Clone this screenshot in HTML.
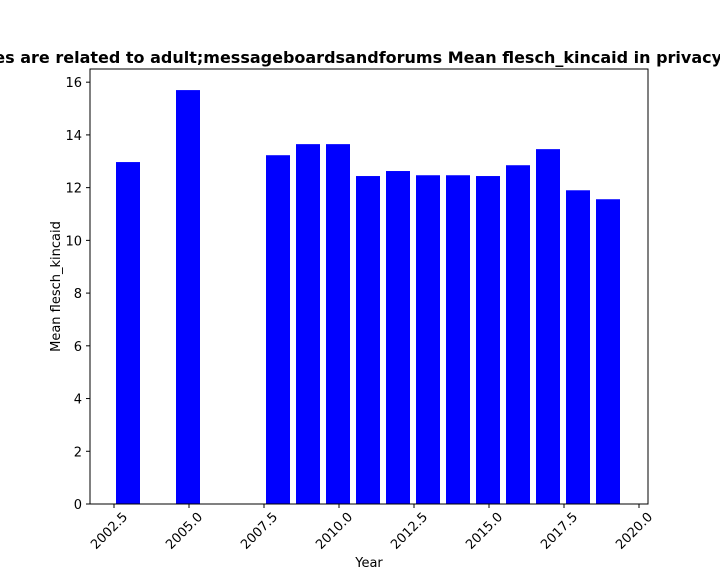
<!DOCTYPE html>
<html><head><meta charset="utf-8"><style>
body{margin:0;background:#fff;}
svg{display:block;font-family:"DejaVu Sans","Liberation Sans",sans-serif;}
</style></head><body>
<svg id="chart" width="720" height="576"></svg>
<script>
const years=[2003,2005,2008,2009,2010,2011,2012,2013,2014,2015,2016,2017,2018,2019];
const values=[12.97,15.7,13.23,13.65,13.65,12.44,12.63,12.47,12.47,12.44,12.85,13.46,11.9,11.56];
const xTicks=[2002.5,2005.0,2007.5,2010.0,2012.5,2015.0,2017.5,2020.0];
const yTicks=[0,2,4,6,8,10,12,14,16];
const L=90,R=648,T=69,B=504;
const xMin=2001.7,xMax=2020.3,yMin=0,yMax=16.5;
const x=v=>L+(v-xMin)/(xMax-xMin)*(R-L);
const y=v=>B-(v-yMin)/(yMax-yMin)*(B-T);
const svg=document.getElementById('chart');
const NS='http://www.w3.org/2000/svg';
function mk(t,a,txt){const e=document.createElementNS(NS,t);for(const k in a)e.setAttribute(k,a[k]);if(txt!==undefined)e.textContent=txt;svg.appendChild(e);return e;}
years.forEach((yr,i)=>{
  const w=x(yr+0.4)-x(yr-0.4);
  const r=mk('rect',{x:x(yr-0.4)-1,y:y(values[i]),width:w,height:B-y(values[i]),fill:'#0000ff'});
  
  
});
const f=mk('rect',{x:L,y:T,width:R-L,height:B-T,fill:'none',stroke:'#000','stroke-width':1});


xTicks.forEach(t=>{
  const px=x(t);
  mk('line',{x1:px,y1:B,x2:px,y2:B+4,stroke:'#000'});
  const lb=mk('text',{x:px+5,y:B+10,'font-size':13,'text-anchor':'end',transform:`rotate(-45 ${px+5} ${B+10})`,dy:'0.7em',dx:'0.3em'},t.toFixed(1));
  
  
});
yTicks.forEach(t=>{
  const py=y(t);
  mk('line',{x1:L-4,y1:py,x2:L,y2:py,stroke:'#000'});
  const lb=mk('text',{x:L-8,y:py+5,'font-size':13,'text-anchor':'end'},t);
  
  
});
const xt=mk('text',{x:(L+R)/2,y:567,'font-size':13,'text-anchor':'middle'},'Year');


const yt=mk('text',{x:60,y:(T+B)/2,'font-size':13,'text-anchor':'middle',transform:`rotate(-90 60 ${(T+B)/2})`},'Mean flesch_kincaid');


const ti=mk('text',{x:371,y:63,'font-size':16,'font-weight':'bold','text-anchor':'middle'},'Policies are related to adult;messageboardsandforums Mean flesch_kincaid in privacy policies');


</script>
</body></html>
